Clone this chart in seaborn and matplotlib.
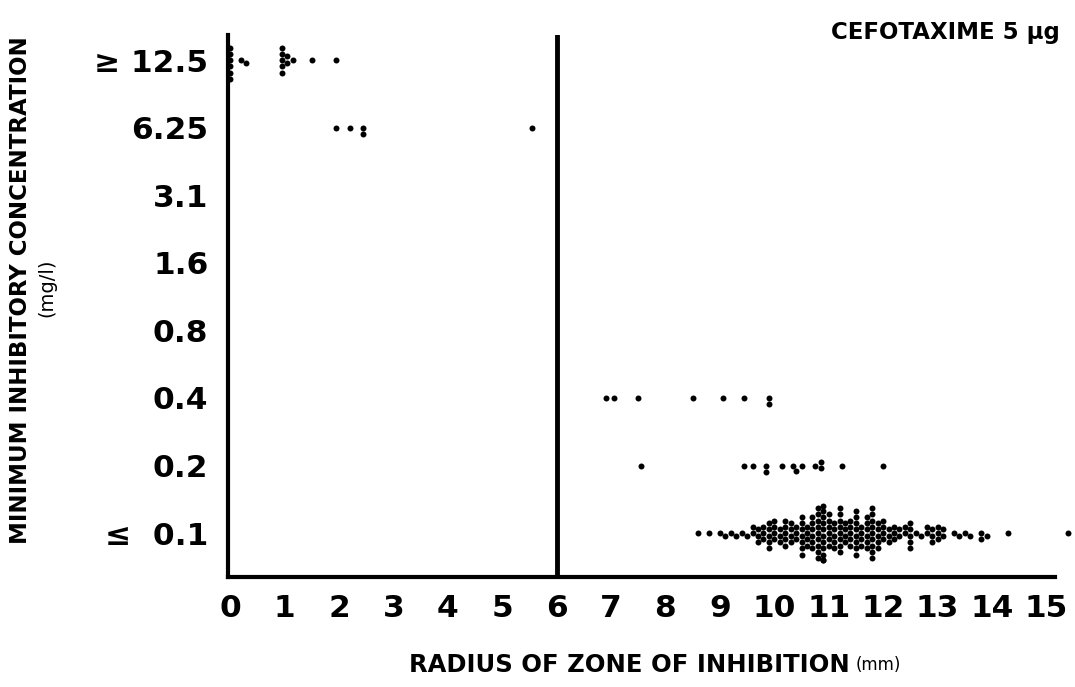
import numpy as np
import pandas as pd
import matplotlib
matplotlib.use("Agg")
import matplotlib.pyplot as plt
import seaborn as sns

# MIC rows (top to bottom) and the zone radii (mm) of the isolates in each row
mic_labels = ["\u2265 12.5", "6.25", "3.1", "1.6", "0.8", "0.4", "0.2", "\u2264  0.1"]

r_125 = [0, 0, 0, 0, 0, 0, 0.2, 0.3, 0.95, 0.95, 0.95, 0.95, 0.95,
         1.05, 1.05, 1.15, 1.5, 1.95]
r_625 = [1.95, 2.2, 2.45, 2.45, 5.55]
r_04 = [6.9, 7.05, 7.5, 8.5, 9.05, 9.45, 9.9, 9.9]
r_02 = [7.55, 9.45, 9.6, 9.85, 9.85, 10.15, 10.35, 10.4, 10.5, 10.75,
        10.85, 10.85, 11.25, 12.0]

# the big cluster at <=0.1: radius and how many isolates had it
r_01_values = [8.6, 8.8, 9.0, 9.1, 9.2, 9.3, 9.4, 9.5, 9.6, 9.7, 9.8, 9.9,
               10.0, 10.1, 10.2, 10.3, 10.4, 10.5, 10.6, 10.7, 10.8, 10.9,
               11.0, 11.1, 11.2, 11.3, 11.4, 11.5, 11.6, 11.7, 11.8, 11.9,
               12.0, 12.1, 12.2, 12.3, 12.4, 12.5, 12.6, 12.7, 12.8, 12.9,
               13.0, 13.1, 13.3, 13.4, 13.5, 13.6, 13.8, 13.9, 14.3, 15.4]
r_01_counts = [1, 1, 1, 1, 1, 1, 1, 1, 2, 3, 3, 5,
               4, 3, 5, 4, 3, 7, 4, 6, 9, 11,
               6, 5, 8, 4, 5, 8, 4, 6, 9, 5,
               4, 3, 3, 2, 2, 5, 1, 1, 2, 3,
               3, 2, 1, 1, 1, 1, 2, 1, 1, 1]
r_01 = list(np.repeat(r_01_values, r_01_counts))

rows = {mic_labels[0]: r_125, mic_labels[1]: r_625,
        mic_labels[5]: r_04, mic_labels[6]: r_02, mic_labels[7]: r_01}
df = pd.DataFrame([(r, m) for m, rs in rows.items() for r in rs],
                  columns=["radius", "mic"])

sns.set_style("white")
plt.rcParams["font.family"] = ["DejaVu Sans"]
plt.rcParams["text.color"] = "black"
plt.rcParams["xtick.color"] = "black"
plt.rcParams["ytick.color"] = "black"

fig = plt.figure(figsize=(10.75, 6.87), dpi=100)
ax = fig.add_axes([0.212, 0.160, 0.769, 0.789])

sns.swarmplot(data=df, x="radius", y="mic", order=mic_labels, orient="h",
              color="black", size=4.3, warn_thresh=1.0, ax=ax)
for c in ax.collections:
    c.set_clip_on(False)

# breakpoint line
ax.axvline(6, color="black", lw=3.5)

ax.set_xlim(-0.04, 15.15)
ax.set_ylim(7.65, -0.37)
ax.set_xticks(range(16))
ax.set_xlabel("")
ax.set_ylabel("")

for s in ["top", "right"]:
    ax.spines[s].set_visible(False)
for s in ["left", "bottom"]:
    ax.spines[s].set_linewidth(3)
    ax.spines[s].set_color("black")

ax.tick_params(axis="both", direction="out", length=4, width=2, color="black",
               labelcolor="black", labelsize=22.5, pad=10)
ax.tick_params(axis="x", pad=8)
for lab in ax.get_xticklabels() + ax.get_yticklabels():
    lab.set_fontweight("bold")

fig.text(1060 / 1075, 1 - 33 / 687, "CEFOTAXIME 5 \u00b5g", ha="right", va="center",
         fontsize=16.5, fontweight="bold")
fig.text(21 / 1075, 1 - 290 / 687, "MINIMUM INHIBITORY CONCENTRATION", rotation=90,
         ha="center", va="center", fontsize=16.5, fontweight="bold")
fig.text(47 / 1075, 1 - 288 / 687, "(mg/l)", rotation=90,
         ha="center", va="center", fontsize=14)
fig.text(850 / 1075, 1 - 665 / 687, "RADIUS OF ZONE OF INHIBITION", ha="right",
         va="center", fontsize=17.5, fontweight="bold")
fig.text(856 / 1075, 1 - 665 / 687, "(mm)", ha="left", va="center", fontsize=12)

fig.savefig("out.png", dpi=100)
